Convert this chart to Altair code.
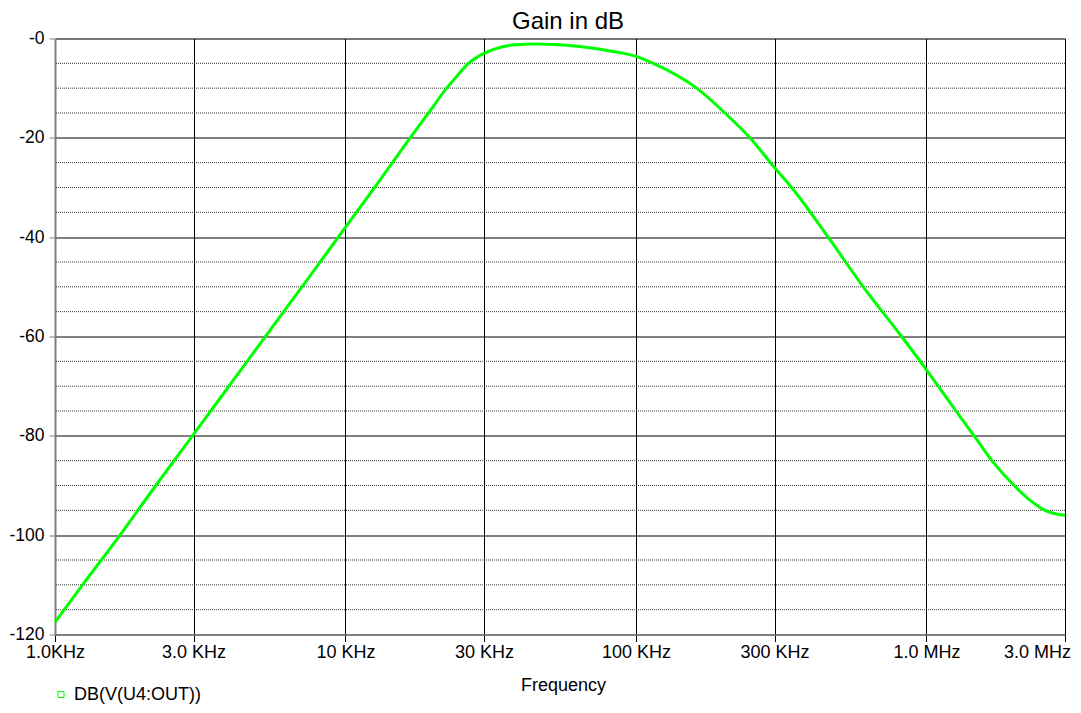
import altair as alt
import pandas as pd

# ---- data ----
freq_hz = [1000, 1252, 1674, 2210, 3000, 4110, 5520, 7400, 10000, 12600,
           16700, 19300, 22300, 24500, 26500, 28500, 30000, 32000, 35000, 39000,
           44000, 49300, 64000, 83500, 100000, 114700, 161800, 202500, 246800, 300000,
           343500, 459000, 606000, 821600, 1000000, 1098000, 1264000, 1480000, 1708000, 2028000,
           2300000, 2558000, 3000000]
gain_db = [-117.5, -109.8, -100, -90.2, -79.7, -68.8, -58.6, -48.5, -38, -30,
           -20, -15, -10, -7.2, -5.0, -3.7, -3.0, -2.3, -1.6, -1.25,
           -1.1, -1.15, -1.6, -2.6, -3.6, -5, -10, -15, -20, -26,
           -30, -40, -50, -60, -66.7, -70, -75, -80.5, -85.5, -90.3,
           -93.2, -95, -96]
series_name = "DB(V(U4:OUT))"

x_ticks = [1000, 3000, 10000, 30000, 100000, 300000, 1000000, 3000000]
x_labels = ["1.0KHz", "3.0 KHz", "10 KHz", "30 KHz", "100 KHz", "300 KHz", "1.0 MHz", "3.0 MHz"]
y_major = [0, -20, -40, -60, -80, -100, -120]
y_minor = [-5, -10, -15, -25, -30, -35, -45, -50, -55, -65, -70, -75,
           -85, -90, -95, -105, -110, -115]

df = pd.DataFrame({"freq": freq_hz, "db": gain_db, "series": [series_name] * len(freq_hz)})
minor_df = pd.DataFrame({"db": y_minor})

# label expression for the x axis built from the tick lists
label_expr = "''"
for v, lab in reversed(list(zip(x_ticks, x_labels))):
    label_expr = f"datum.value == {v} ? '{lab}' : ({label_expr})"

FONT = "Liberation Sans"

x_axis = alt.Axis(
    values=x_ticks,
    labelExpr=label_expr,
    title="Frequency",
    titleFontSize=18,
    titleFontWeight="normal",
    titleFont=FONT,
    titleBaseline="alphabetic",
    titleY=55.5,
    titleX=508,
    labelFontSize=18,
    labelFont=FONT,
    labelColor="black",
    labelPadding=2,
    labelFlush=False,
    labelOffset={"condition": {"test": "datum.value > 2000000", "value": -28}, "value": 0},
    labelOverlap=False,
    tickSize=7,
    tickColor="#000000",
    domainColor="#808080",
    domainWidth=1.5,
    grid=True,
    gridColor="#000000",
    gridWidth=1,
)

y_axis = alt.Axis(
    values=y_major,
    labelExpr="'-' + abs(datum.value)",
    title=None,
    labelFontSize=17.5,
    labelFont=FONT,
    labelColor="black",
    labelPadding=5,
    labelFlush=False,
    labelOverlap=False,
    tickSize=6,
    tickColor="#808080",
    domainColor="#808080",
    domainWidth=2,
    grid=True,
    gridColor="#000000",
    gridWidth=1,
)

y_scale = alt.Scale(domain=[-120, 0], nice=False)

dotted = alt.Chart(minor_df).mark_rule(
    color="#333333", strokeDash=[1, 1], strokeWidth=1
).encode(
    y=alt.Y("db:Q", scale=y_scale, axis=y_axis)
)

line = alt.Chart(df).mark_line(strokeWidth=3, interpolate="monotone").encode(
    x=alt.X("freq:Q", scale=alt.Scale(type="log", domain=[1000, 3000000], nice=False), axis=x_axis),
    y=alt.Y("db:Q", scale=y_scale, axis=y_axis),
    color=alt.Color(
        "series:N",
        scale=alt.Scale(domain=[series_name], range=["#00ff00"]),
        legend=alt.Legend(
            title=None,
            orient="none",
            legendX=-3,
            legendY=647,
            symbolType="square",
            symbolSize=36,
            symbolFillColor="white",
            symbolStrokeWidth=1,
            labelFontSize=18,
            labelFont=FONT,
            labelColor="black",
            labelOffset=4,
            padding=0,
        ),
    ),
)

chart = alt.layer(dotted, line).properties(
    width=1010,
    height=596,
    autosize=alt.AutoSizeParams(type="none"),
    padding={"left": 47, "top": 30.5, "right": 8, "bottom": 70.5},
    title=alt.Title(
        "Gain in dB",
        fontSize=24,
        fontWeight="normal",
        font=FONT,
        color="black",
        baseline="alphabetic",
        offset=10,
        frame="group",
        dx=8,
        dy=33,
    ),
).configure_view(
    stroke="#808080", strokeWidth=1.5
).configure(background="white")

chart.save("out.html", embed_options={"renderer": "svg", "actions": False})
